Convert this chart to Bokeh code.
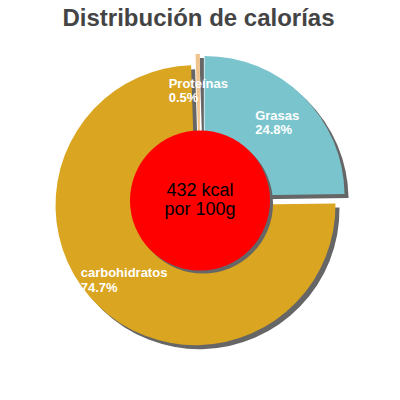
import numpy as np
from bokeh.plotting import figure
from bokeh.models import Range1d, ColumnDataSource
from bokeh.core.properties import value
from bokeh.embed import file_html
from bokeh.resources import INLINE

# ---- data ----
title_text = "Distribución de calorías"
slice_labels = ["Grasas", "carbohidratos", "Proteínas"]
slice_percents = [24.8, 74.7, 0.5]
slice_colors = ["#7AC5CD", "#DAA520", "#F0C48C"]
energy_kcal = 432
center_text = f"{energy_kcal} kcal\npor 100g"

# ---- layout (pixel-like data units, y up) ----
W = H = 384
cx, cy = 199.5, 200.0
R = 140.0
explode = 6.5
shadow_dx, shadow_dy = 4.0, -4.0
inner_r = 70.0
label_r = 0.785 * R

p = figure(width=W, height=H, output_backend="svg", toolbar_location=None,
           x_range=Range1d(0, 384), y_range=Range1d(16, 400),
           x_axis_location=None, y_axis_location=None, min_border=0,
           outline_line_color=None, background_fill_color="white",
           border_fill_color="white")
p.grid.visible = False

frac = np.array(slice_percents, dtype=float) / sum(slice_percents)
cum = np.concatenate([[0.0], np.cumsum(frac)]) * 2 * np.pi
ts, te = cum[:-1], cum[1:]
mid = (ts + te) / 2
dx, dy = np.sin(mid), np.cos(mid)

src = ColumnDataSource(dict(
    x=cx + explode * dx, y=cy + explode * dy,
    sx=cx + explode * dx + shadow_dx, sy=cy + explode * dy + shadow_dy,
    start=np.pi / 2 - te, end=np.pi / 2 - ts,
    color=slice_colors,
    lx=cx + label_r * dx, ly=cy + label_r * dy,
    text=[f"{n}\n{v}%" for n, v in zip(slice_labels, slice_percents)],
))

p.wedge(x="sx", y="sy", radius=R, start_angle="start", end_angle="end",
        fill_color="#666666", line_color=None, source=src)
p.wedge(x="x", y="y", radius=R, start_angle="start", end_angle="end",
        fill_color="color", line_color=None, source=src)

p.circle(x=[cx + 3], y=[cy - 3], radius=inner_r, fill_color="#666666", line_color=None)
p.circle(x=[cx], y=[cy], radius=inner_r, fill_color="#FF0000", line_color=None)

p.text(x="lx", y="ly", text="text", source=src, text_color="white",
       text_font=value("Liberation Sans"), text_font_size="13px",
       text_font_style="bold", text_align="left", anchor="center",
       text_line_height=0.95)

p.text(x=[cx], y=[cy + 1], text=[center_text], text_color="black",
       text_font=value("Liberation Sans"), text_font_size="18px",
       text_align="center", anchor="center", text_line_height=0.95)

p.text(x=[198], y=[383], text=[title_text], text_color="#444444",
       text_font=value("Liberation Sans"), text_font_size="24px",
       text_font_style="bold", text_align="center", text_baseline="alphabetic")

open("out.html", "w").write(file_html(p, INLINE))
